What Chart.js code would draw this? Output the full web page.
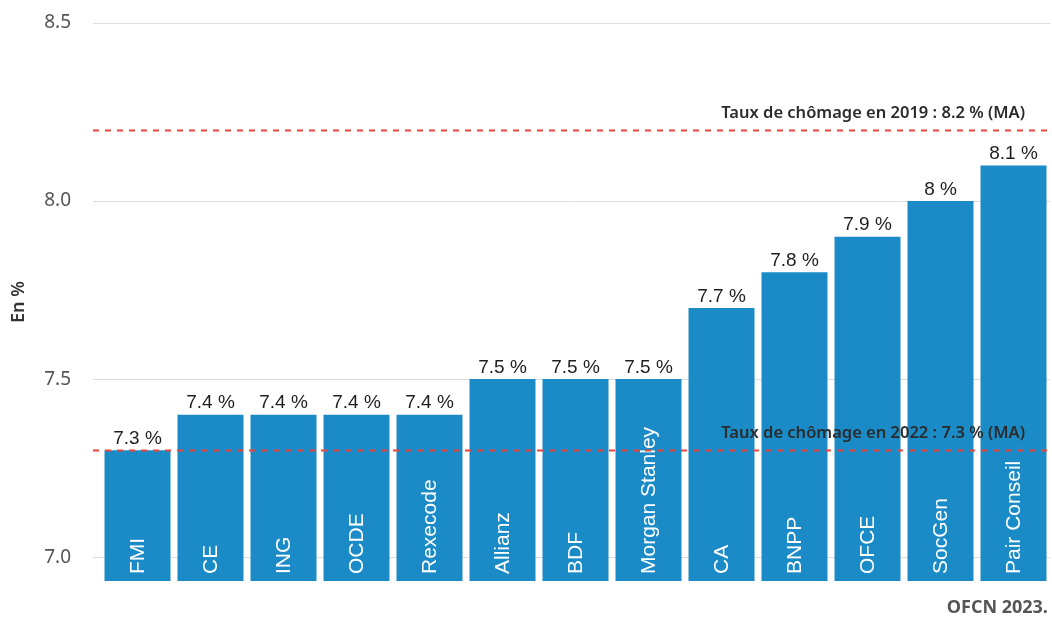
<!DOCTYPE html>
<html>
<head>
<meta charset="utf-8">
<script src="https://cdn.jsdelivr.net/npm/chart.js@4/dist/chart.umd.min.js"></script>
<style>
  body { margin: 0; background: #fff; }
  #wrap { width: 1052px; height: 617px; position: relative; }
</style>
</head>
<body>
<div id="wrap"><canvas id="chart"></canvas></div>
<script>
  /* ===================== DATA ===================== */

  const institutes = ["FMI", "CE", "ING", "OCDE", "Rexecode", "Allianz", "BDF",
                      "Morgan Stanley", "CA", "BNPP", "OFCE", "SocGen", "Pair Conseil"];
  const forecasts  = [7.3, 7.4, 7.4, 7.4, 7.4, 7.5, 7.5, 7.5, 7.7, 7.8, 7.9, 8.0, 8.1];

  const yTicks     = [7.0, 7.5, 8.0, 8.5];
  const refValues  = [8.2, 7.3];
  const refLabels  = ["Taux de chômage en 2019 : 8.2 % (MA)",
                      "Taux de chômage en 2022 : 7.3 % (MA)"];

  const sourceText = "OFCN 2023.";

  /* ===================== PLUGIN ===================== */

  const decorations = {
    id: "decorations",
    afterDatasetsDraw(chart) {
      const ctx = chart.ctx;
      const y = chart.scales.y;
      const x = chart.scales.x;
      const area = chart.chartArea;
      const meta = chart.getDatasetMeta(0);

      ctx.save();

      // value labels above bars
      ctx.fillStyle = "#1e1e1e";
      ctx.font = "19px 'Liberation Sans', Arial, sans-serif";
      ctx.textAlign = "center";
      ctx.textBaseline = "bottom";
      meta.data.forEach((bar, i) => {
        ctx.fillText(String(forecasts[i]) + " %", bar.x, bar.y - 2);
      });

      // category names inside bars
      ctx.fillStyle = "#ffffff";
      ctx.font = "21px 'Liberation Sans', Arial, sans-serif";
      ctx.textAlign = "left";
      ctx.textBaseline = "middle";
      institutes.forEach((name, i) => {
        ctx.save();
        ctx.translate(x.getPixelForValue(i) + 1, area.bottom - 7);
        ctx.rotate(-Math.PI / 2);
        ctx.fillText(name, 0, 0);
        ctx.restore();
      });

      // reference lines
      refValues.forEach((v, i) => {
        const py = Math.round(y.getPixelForValue(v)) + 0.5;
        ctx.strokeStyle = "#e8453c";
        ctx.lineWidth = 2;
        ctx.setLineDash([6, 6]);
        ctx.beginPath();
        ctx.moveTo(area.left - 8, py);
        ctx.lineTo(chart.width, py);
        ctx.stroke();
        ctx.setLineDash([]);

        ctx.fillStyle = "#2b2b2b";
        ctx.font = "600 16.5px 'Noto Sans', sans-serif";
        ctx.textAlign = "right";
        ctx.textBaseline = "alphabetic";
        ctx.fillText(refLabels[i], 1025, py - 13);
      });

      // source
      ctx.fillStyle = "#555555";
      ctx.font = "bold 18px 'Open Sans', sans-serif";
      ctx.textAlign = "right";
      ctx.textBaseline = "middle";
      ctx.fillText(sourceText, 1048, 608);

      ctx.restore();
    }
  };

  /* ===================== CHART ===================== */

  new Chart(document.getElementById("chart"), {
    type: "bar",
    data: {
      labels: institutes,
      datasets: [{
        data: forecasts,
        backgroundColor: "#1a8bc7",
        borderWidth: 0,
        barPercentage: 0.904,
        categoryPercentage: 1.0
      }]
    },
    options: {
      responsive: true,
      maintainAspectRatio: false,
      animation: false,
      layout: { padding: { top: 23, right: 2, bottom: 36, left: 0 } },
      plugins: {
        legend: { display: false },
        tooltip: { enabled: false }
      },
      scales: {
        x: {
          display: false
        },
        y: {
          min: 6.933,
          max: 8.5,
          afterBuildTicks(scale) {
            scale.ticks = yTicks.map(v => ({ value: v }));
          },
          afterFit(scale) {
            scale.width = 101;
            scale.paddingTop = 0;
            scale.paddingBottom = 0;
          },
          border: { display: false },
          grid: {
            color: "#dddddd",
            lineWidth: 1,
            drawTicks: true,
            tickLength: 8,
            tickColor: "#dddddd"
          },
          ticks: {
            padding: 22,
            color: "#555555",
            font: { family: "'Noto Sans', sans-serif", size: 19 },
            callback: v => Number(v).toFixed(1)
          },
          title: {
            display: true,
            text: "En %",
            color: "#333333",
            font: { family: "'Noto Sans', sans-serif", size: 18, weight: "600" },
            padding: { top: 8, bottom: 0 }
          }
        }
      }
    },
    plugins: [decorations]
  });
</script>
</body>
</html>
